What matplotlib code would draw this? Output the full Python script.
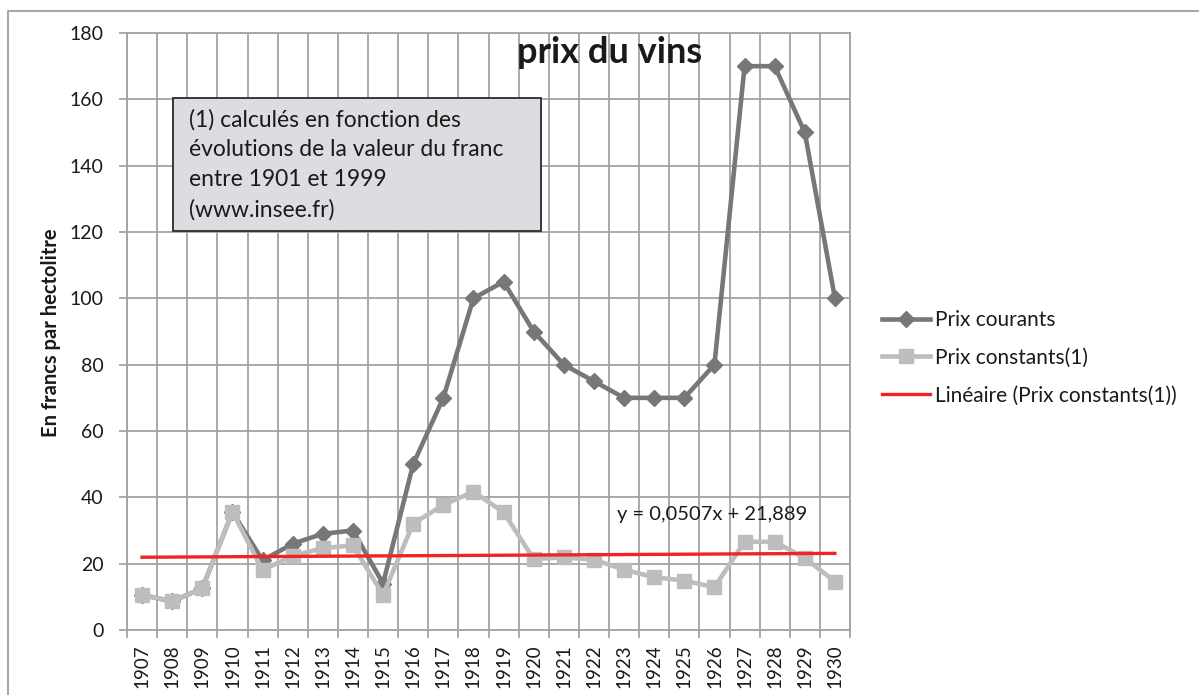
import matplotlib
matplotlib.use("Agg")
import matplotlib.pyplot as plt
from matplotlib.lines import Line2D
from matplotlib.patches import Rectangle
import numpy as np

years = ["1907", "1908", "1909", "1910", "1911", "1912", "1913", "1914", "1915", "1916",
         "1917", "1918", "1919", "1920", "1921", "1922", "1923", "1924", "1925", "1926",
         "1927", "1928", "1929", "1930"]
prix_courants = [10.6, 8.6, 12.6, 35.6, 21, 26, 29, 30, 14, 50,
                 70, 100, 105, 90, 80, 75, 70, 70, 70, 80,
                 170, 170, 150, 100]
prix_constants = [10.6, 8.6, 12.6, 35.6, 18.1, 22.3, 24.7, 25.5, 10.6, 32.1,
                  37.7, 41.7, 35.5, 21.4, 21.9, 21.2, 18.2, 15.9, 14.9, 12.9,
                  26.6, 26.6, 21.7, 14.6]
trend_slope = 0.0507
trend_intercept = 21.889
y_ticks = [0, 20, 40, 60, 80, 100, 120, 140, 160, 180]

FONT = ["Lato", "DejaVu Sans"]
plt.rcParams["font.family"] = FONT

W, H = 1199, 695
fig = plt.figure(figsize=(W / 100, H / 100), dpi=100)
ax = fig.add_axes([127 / W, 1 - 630 / H, (850 - 127) / W, (630 - 33) / H])

grid_c = "#a3a3a3"
dark_c = "#77777a"
light_c = "#bdbdc0"
red_c = "#f02424"
txt_c = "#1a1a1a"

x = np.arange(len(years))
ax.plot(x, prix_courants, color=dark_c, lw=3.3, marker="D", ms=8.5, zorder=3,
        label="Prix courants")
ax.plot(x, prix_constants, color=light_c, lw=3.3, marker="s", ms=10, zorder=4,
        label="Prix constants(1)")
xt = x + 1
ax.plot(x, trend_slope * xt + trend_intercept, color=red_c, lw=2.4, zorder=5,
        label="Linéaire (Prix constants(1))")

ax.set_xlim(-0.5, len(years) - 0.5)
ax.set_ylim(0, 180)
ax.set_yticks(y_ticks)
ax.set_xticks(x)
ax.set_xticklabels(years, rotation=90)
ax.set_xticks(np.arange(len(years) + 1) - 0.5, minor=True)
ax.tick_params(axis="x", which="major", length=0, pad=10, labelsize=13.5, labelcolor=txt_c)
ax.tick_params(axis="x", which="minor", length=6, width=1.3, color=grid_c, direction="out")
ax.tick_params(axis="y", length=6, width=1.3, color=grid_c, pad=11, labelsize=14,
               labelcolor=txt_c)
ax.grid(True, axis="x", which="minor", color=grid_c, lw=1.3)
ax.grid(True, axis="y", which="major", color=grid_c, lw=1.3)
ax.set_axisbelow(True)
for s in ax.spines.values():
    s.set_color(grid_c)
    s.set_linewidth(1.3)

# title
fig.text(610 / W, 1 - 63 / H, "prix du vins", ha="center", va="baseline",
         fontsize=26, fontweight="bold", color=txt_c)

# y label
fig.text(51 / W, 1 - 333 / H, "En francs par hectolitre", rotation=90, ha="center",
         va="center", fontsize=14.5, fontweight="bold", color=txt_c)

# note box
fig.patches.append(Rectangle((173 / W, 1 - 231 / H), (541 - 173) / W, (231 - 98) / H,
                             transform=fig.transFigure, facecolor="#dcdde0",
                             edgecolor="#2a2a2a", lw=1.3, zorder=6))
note = ["(1) calculés en fonction des", "évolutions de la valeur du franc",
        "entre 1901 et 1999", "(www.insee.fr)"]
for i, line in enumerate(note):
    fig.text(189 / W, 1 - (120 + 30 * i) / H, line, ha="left", va="center",
             fontsize=16.5, color=txt_c, zorder=7)

# equation
fig.text(617 / W, 1 - 520 / H, "y = 0,0507x + 21,889", ha="left", va="baseline",
         fontsize=14.5, color=txt_c)

# legend
leg = fig.legend(loc="upper left", bbox_to_anchor=(882 / W, 1 - 310 / H), frameon=False,
                 fontsize=15, numpoints=1, handlelength=2.3, handletextpad=0.25,
                 labelspacing=0.85, borderaxespad=0, borderpad=0)
for t in leg.get_texts():
    t.set_color(txt_c)

# outer border
fig.add_artist(Line2D([8 / W, 8 / W, 1.0], [0.0, 1 - 11 / H, 1 - 11 / H],
                      transform=fig.transFigure, color="#a8a8a8", lw=1.5))

fig.savefig("out.png", dpi=100)
